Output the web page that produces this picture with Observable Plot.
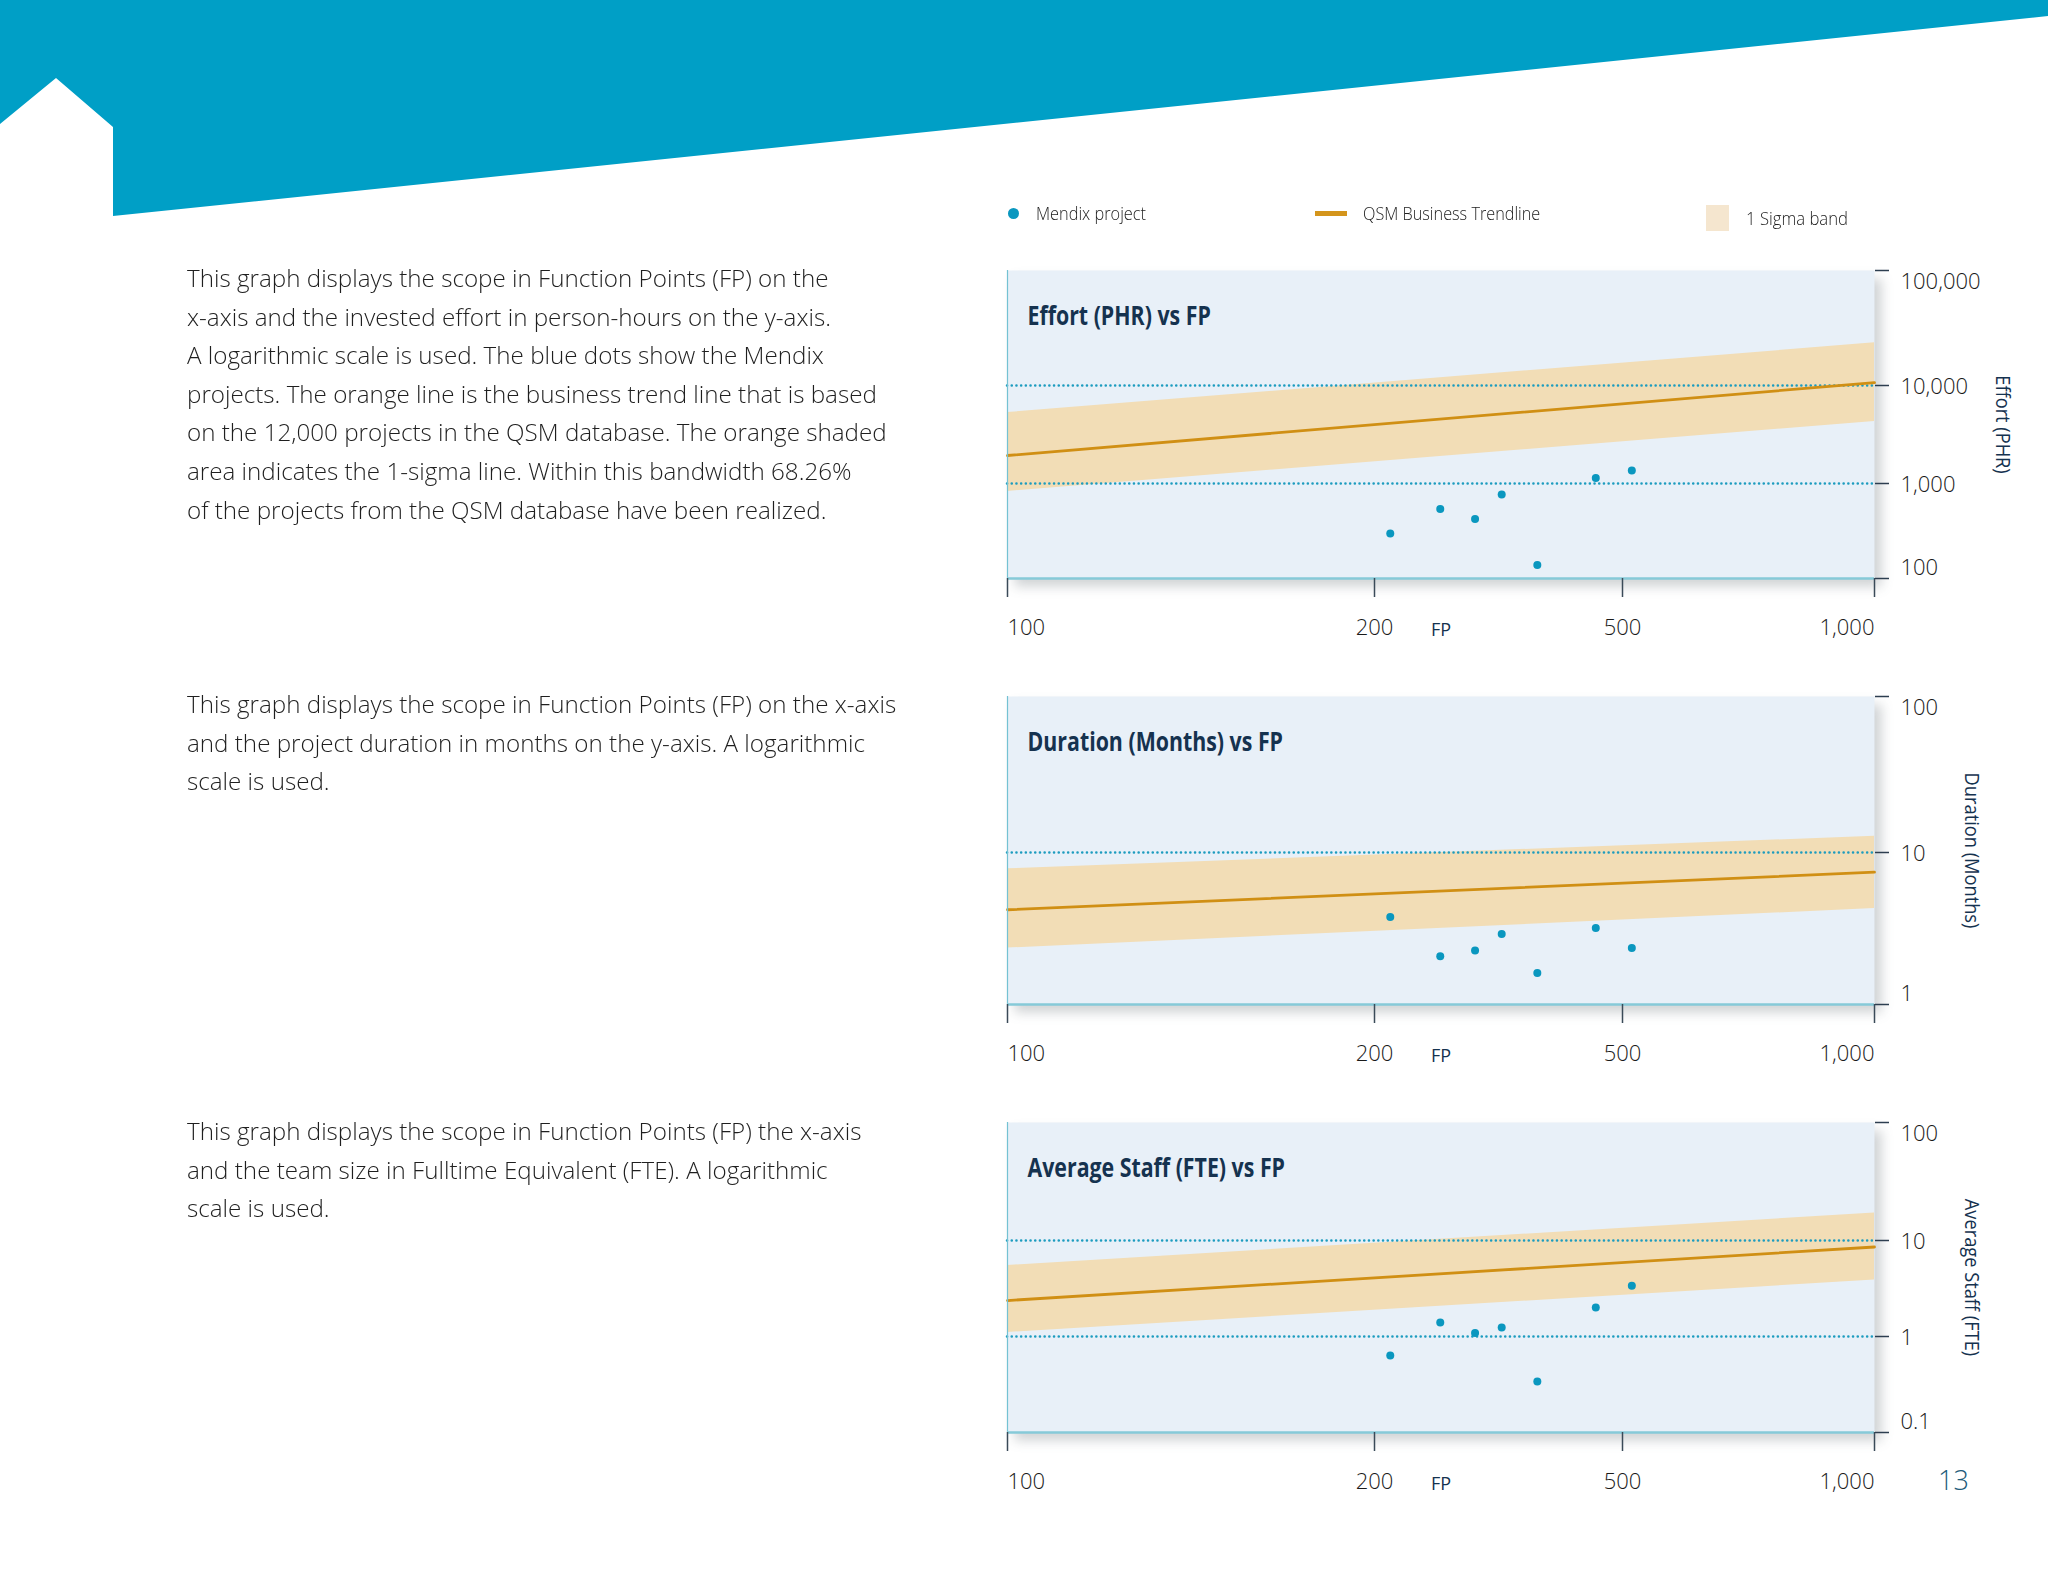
<!DOCTYPE html>
<html><head><meta charset="utf-8">
<script src="https://cdn.jsdelivr.net/npm/d3@7"></script>
<script src="https://cdn.jsdelivr.net/npm/@observablehq/plot@0.6"></script>
<style>
html,body{margin:0;padding:0;background:#fff;}
#page{position:relative;width:2048px;height:1582px;overflow:hidden;font-family:'Open Sans',sans-serif;}
.para{position:absolute;left:187px;font-size:24.5px;font-weight:300;line-height:38.6px;color:#1f1f1f;white-space:nowrap;transform-origin:0 0;display:inline-block;}
.leg{position:absolute;font-size:19px;font-weight:300;line-height:28px;color:#222;white-space:nowrap;transform-origin:0 50%;display:inline-block;}
.chart{position:absolute;left:980px;}
#pg{position:absolute;left:1938px;top:1462px;font-size:27px;font-weight:300;line-height:36px;color:#1d5b7a;}
</style></head><body>
<div id="page">
  <svg id="hdr" width="2048" height="230" style="position:absolute;left:0;top:0">
    <polygon points="0,0 2048,0 2048,16 113,216 113,127 56,78 0,124" fill="#009fc6"/>
  </svg>
  <div class="para" id="p1" style="top:259px">This graph displays the scope in Function Points (FP) on the<br>x-axis and the invested effort in person-hours on the y-axis.<br>A logarithmic scale is used. The blue dots show the Mendix<br>projects. The orange line is the business trend line that is based<br>on the 12,000 projects in the QSM database. The orange shaded<br>area indicates the 1-sigma line. Within this bandwidth 68.26%<br>of the projects from the QSM database have been realized.</div>
  <div class="para" id="p2" style="top:685px">This graph displays the scope in Function Points (FP) on the x-axis<br>and the project duration in months on the y-axis. A logarithmic<br>scale is used.</div>
  <div class="para" id="p3" style="top:1112px">This graph displays the scope in Function Points (FP) the x-axis<br>and the team size in Fulltime Equivalent (FTE). A logarithmic<br>scale is used.</div>

  <div style="position:absolute;left:1007.5px;top:207.5px;width:11px;height:11px;border-radius:50%;background:#0a97bf"></div>
  <div class="leg" data-w="110" style="left:1036px;top:199px">Mendix project</div>
  <div style="position:absolute;left:1315px;top:211px;width:32px;height:4.5px;background:#d4951c"></div>
  <div class="leg" data-w="177" style="left:1363px;top:199px">QSM Business Trendline</div>
  <div style="position:absolute;left:1706px;top:205px;width:23px;height:26px;background:#f5e6cf"></div>
  <div class="leg" data-w="102" style="left:1746px;top:204px">1 Sigma band</div>

  <div class="chart" id="c1"></div>
  <div class="chart" id="c2"></div>
  <div class="chart" id="c3"></div>
  <div id="pg">13</div>
</div>
<script>
// ---- data ----
const fpTicks = [100, 200, 500, 1000];
const projectFP = [212, 255, 290, 320, 365, 453, 513];
const effortPHR = [298, 539, 423, 766, 139, 1138, 1358];
const durationMonths = [3.76, 2.08, 2.27, 2.91, 1.61, 3.19, 2.35];
const avgStaffFTE = [0.634, 1.40, 1.09, 1.24, 0.34, 2.01, 3.37];
const trendFP = [100, 1000];
const effortTrend = [1930, 10600];
const effortLow = [824, 4290];
const effortHigh = [5300, 23500];
const durationTrend = [4.2, 7.42];
const durationLow = [2.35, 4.28];
const durationHigh = [7.81, 12.7];
const staffTrend = [2.37, 8.56];
const staffLow = [1.10, 3.88];
const staffHigh = [5.49, 17.1];
const effortTicks = [100, 1000, 10000, 100000];
const durationTicks = [1, 10, 100];
const staffTicks = [0.1, 1, 10, 100];
const effortGrid = [1000, 10000];
const durationGrid = [10];
const staffGrid = [1, 10];

// ---- layout (page pixels of tick marks, as drawn in the reference) ----
const fpTickPos = [1007, 1374, 1622, 1874];
const charts = [
  {id: "c1", frameTop: 270, frameBottom: 578, yTicks: effortTicks, yTickPos: [578, 483, 385, 270],
   grid: effortGrid, values: effortPHR, trend: effortTrend, low: effortLow, high: effortHigh,
   title: "Effort (PHR) vs FP", ylabel: "Effort (PHR)", ylabelX: 2002},
  {id: "c2", frameTop: 696, frameBottom: 1004, yTicks: durationTicks, yTickPos: [1004, 852, 696],
   grid: durationGrid, values: durationMonths, trend: durationTrend, low: durationLow, high: durationHigh,
   title: "Duration (Months) vs FP", ylabel: "Duration (Months)", ylabelX: 1971},
  {id: "c3", frameTop: 1122, frameBottom: 1432, yTicks: staffTicks, yTickPos: [1432, 1336, 1240, 1122],
   grid: staffGrid, values: avgStaffFTE, trend: staffTrend, low: staffLow, high: staffHigh,
   title: "Average Staff (FTE) vs FP", ylabel: "Average Staff (FTE)", ylabelX: 1971}
];

const fmt = d3.format(",");
const ink = "#1a1a1a", navy = "#15324f";

function makeChart(c) {
  const svgLeft = 980, W = 1060, padTop = 30, padBottom = 80;
  const frameLeft = fpTickPos[0], frameRight = fpTickPos[fpTickPos.length - 1];
  const svgTop = c.frameTop - padTop;
  const H = c.frameBottom - c.frameTop + padTop + padBottom;
  const rows = trendFP.map((fp, i) => ({fp, trend: c.trend[i], low: c.low[i], high: c.high[i]}));
  const pts = projectFP.map((fp, i) => ({fp, v: c.values[i]}));
  const yt = c.yTicks;
  const tx = {x: d => d, text: d => fmt(d), frameAnchor: "bottom", dy: 49, lineAnchor: "middle", fill: ink, fontSize: 22, fontWeight: 300};
  const ty = {y: d => d, text: d => fmt(d), frameAnchor: "right", dx: 26, lineAnchor: "middle", textAnchor: "start", fill: ink, fontSize: 22, fontWeight: 300};
  const plot = Plot.plot({
    width: W, height: H,
    marginLeft: frameLeft - svgLeft, marginRight: svgLeft + W - frameRight,
    marginTop: padTop, marginBottom: padBottom,
    style: {fontFamily: "'Open Sans', sans-serif", fontSize: "22px", overflow: "visible", background: "transparent"},
    x: {type: "log", domain: fpTicks, range: fpTickPos.map(p => p - svgLeft)},
    y: {type: "log", domain: yt, range: c.yTickPos.map(p => p - svgTop)},
    marks: [
      Plot.frame({fill: "#e8f0f8", stroke: "none"}),
      Plot.areaY(rows, {x: "fp", y1: "low", y2: "high", fill: "#f2ddb6"}),
      Plot.ruleY(c.grid, {stroke: "#1d9cbf", strokeWidth: 2.5, strokeDasharray: "0.1 4.6", strokeLinecap: "round"}),
      Plot.lineY(rows, {x: "fp", y: "trend", stroke: "#d08f14", strokeWidth: 2.8}),
      Plot.dot(pts, {x: "fp", y: "v", r: 4, fill: "#0a97bf"}),
      Plot.ruleX([fpTicks[0]], {stroke: "#74c2d3", strokeWidth: 1.2}),
      Plot.ruleY([yt[0]], {stroke: "#86cad8", strokeWidth: 2.5}),
      Plot.axisX({ticks: fpTicks, anchor: "bottom", tickSize: 19, tickFormat: () => "", stroke: "#3a4a58", strokeWidth: 1.5, label: null}),
      Plot.axisY({ticks: yt, anchor: "right", tickSize: 14, tickFormat: () => "", stroke: "#2d3e50", strokeWidth: 1.5, label: null}),
      Plot.text([fpTicks[0]], {...tx, textAnchor: "start"}),
      Plot.text(fpTicks.slice(1, -1), {...tx, textAnchor: "middle"}),
      Plot.text([fpTicks[fpTicks.length - 1]], {...tx, textAnchor: "end"}),
      Plot.text(["FP"], {frameAnchor: "bottom", dy: 52, lineAnchor: "middle", fontSize: 18, fill: navy}),
      Plot.text([yt[0]], {...ty, dy: -11}),
      Plot.text(yt.slice(1, -1), {...ty, dy: 1}),
      Plot.text([yt[yt.length - 1]], {...ty, dy: 11}),
      Plot.text([c.title], {frameAnchor: "top-left", dx: 20, dy: 46, lineAnchor: "middle", textAnchor: "start", fontSize: 27, fontWeight: "bold", fill: navy}),
      Plot.text([c.ylabel], {frameAnchor: "right", dx: c.ylabelX - frameRight, rotate: 90, lineAnchor: "middle", textAnchor: "middle", fontSize: 20.5, fill: navy})
    ]
  });
  const host = document.getElementById(c.id);
  host.style.top = svgTop + "px";
  host.appendChild(plot);
  const fr = plot.querySelector('g[aria-label="frame"] rect') || plot.querySelector('rect');
  if (fr) fr.style.filter = "drop-shadow(7px 8px 6px rgba(60,70,80,0.24))";
  return plot;
}

const plots = charts.map(makeChart);

function condense() {
  // condensed typeface look
  plots.forEach(svg => {
    svg.querySelectorAll("text").forEach(t => {
      const g = t.closest("g");
      const bold = g && g.getAttribute("font-weight") === "bold";
      const tr = (t.getAttribute("transform") || "") + (g ? (g.getAttribute("transform") || "") : "");
      let f = 1;
      if (bold) f = 0.79;
      else if (tr.includes("rotate")) f = 0.89;
      if (f !== 1) {
        const L = t.getComputedTextLength();
        if (L > 0) { t.setAttribute("textLength", (L * f).toFixed(1)); t.setAttribute("lengthAdjust", "spacingAndGlyphs"); }
      }
    });
  });
  document.querySelectorAll(".leg").forEach(el => {
    const w = +el.dataset.w, n = el.scrollWidth;
    if (n > 0) el.style.transform = `scaleX(${w / n})`;
  });
  const p1 = document.getElementById("p1");
  const k = 700 / p1.scrollWidth;
  document.querySelectorAll(".para").forEach(el => el.style.transform = `scaleX(${k})`);
}
condense();
</script>
</body></html>
